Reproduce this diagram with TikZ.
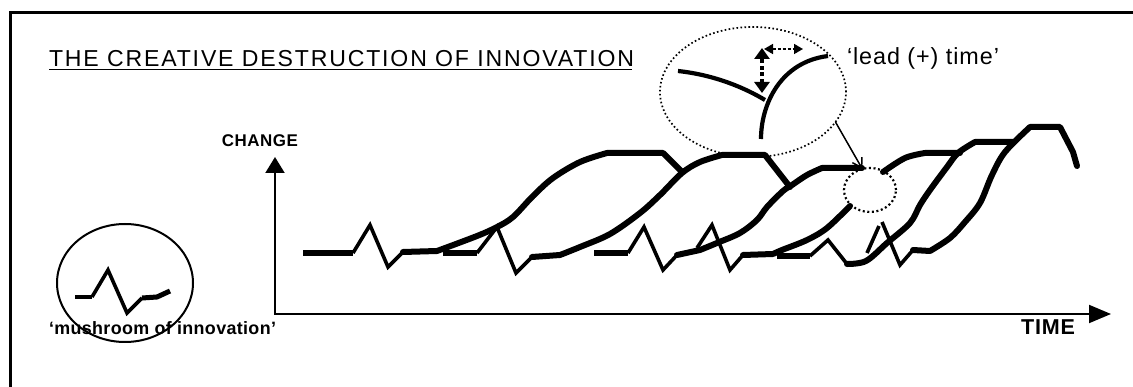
\documentclass[tikz,border=0pt]{standalone}
\usepackage{fontspec}
\setmainfont{Liberation Sans}
\usetikzlibrary{arrows.meta,shapes.geometric}
\newcommand\fitto[2]{\resizebox{#1}{!}{#2}}
\begin{document}
\begin{tikzpicture}[x=1pt,y=-1pt,
  txt/.style={inner sep=0pt,outer sep=0pt},
  curve/.style={line width=6pt,line cap=round,line join=round},
  flat/.style={line width=5.5pt,line cap=butt,line join=round},
  zig/.style={line width=3.6pt,line join=miter,line cap=butt},
  axis/.style={line width=2pt},
  dots/.style={line width=1.7pt,dash pattern=on 1.6pt off 2.4pt},
  ell/.style={ellipse,inner sep=0pt,outer sep=0pt}]
\useasboundingbox (0,0) rectangle (1133,387);
% frame
\draw[line width=3pt] (1145,13) -| (10,400);
% title
\node[txt,anchor=base west] (title) at (49,67)
  {\fitto{585pt}{\fontsize{19}{19}\selectfont\addfontfeature{LetterSpace=8}THE CREATIVE DESTRUCTION OF INNOVATION}};
\draw[line width=1.6pt] ([yshift=-2.5pt]title.base west) -- ([xshift=-2pt,yshift=-2.5pt]title.base east);
\node[txt,anchor=base west] (lead) at (847,65)
  {\fitto{152pt}{\fontsize{20.5}{20.5}\selectfont\addfontfeature{LetterSpace=4}‘lead (+) time’}};
\node[txt,anchor=base east] (change) at (298,147)
  {\fitto{76pt}{\fontsize{16.7}{16.7}\selectfont\bfseries\addfontfeature{LetterSpace=3}CHANGE}};
\node[txt,anchor=base west] (time) at (1021,335)
  {\fitto{54pt}{\fontsize{19}{19}\selectfont\bfseries\addfontfeature{LetterSpace=4}TIME}};
\node[txt,anchor=base west] (mush) at (49,335)
  {\fitto{227pt}{\fontsize{16.7}{16.7}\selectfont\bfseries\addfontfeature{LetterSpace=2}‘mushroom of innovation’}};
% axes
\coordinate (origin) at (275,314);
\coordinate (ytip) at (275,157);
\coordinate (xtip) at (1111,314);
\draw[axis,-{Triangle[length=16pt,width=19pt]}] ([yshift=-1pt]origin) -- (ytip);
\draw[axis,-{Triangle[length=22pt,width=18pt]}] ([xshift=-1pt]origin) -- (xtip);
% icon ellipse
\node[ell,draw,line width=2pt,minimum width=136pt,minimum height=118pt] (icon) at (125,283) {};
\draw[flat,line width=4.5pt] (75,297) -- (92,297);
\draw[zig] (92,297) -- (108,270) -- (127,313) -- (142,298);
\draw[flat,line width=5pt] (142,298) -- (157,297) -- (170,291);
% magnifier ellipse and small circle
\node[ell,draw,dots,minimum width=186pt,minimum height=130pt] (zoomell) at (753,92) {};
\node[ell,draw,line width=2.2pt,dash pattern=on 2pt off 2.6pt,minimum width=52pt,minimum height=44pt] (sc) at (870,190) {};
\draw[line width=1.5pt,-{Straight Barb[length=9pt,width=11pt]}] (zoomell.-20) -- (sc.110);
% inside magnifier
\draw[line width=4.2pt] (678,71) .. controls (715,75) and (745,88) .. (765,100);
\draw[line width=4.2pt] (761,139) .. controls (761,105) and (780,62) .. (828,56);
\coordinate (vtop) at (762,48);
\coordinate (vbot) at (762,93);
\coordinate (hl) at (764,49);
\coordinate (hr) at (803,49);
\draw[line width=3.2pt,dash pattern=on 4pt off 2.5pt,{Triangle[length=11pt,width=15pt]}-{Triangle[length=11pt,width=15pt]}] (vbot) -- (vtop);
\draw[line width=1.6pt,dash pattern=on 3pt off 2pt,{Triangle[length=9pt,width=10pt]}-{Triangle[length=9pt,width=10pt]}] (hl) -- (hr);
% mushroom A
\draw[flat] (303,253) -- (353,253);
\draw[zig] (353,253) -- (370,225) -- (388,267) -- (403,252);
\draw[curve] (403,252) -- (437,251) plot[smooth,tension=0.55] coordinates {(437,251) (477,236) (497,227) (513,217) (533,196) (553,178) (580,162) (607,153)} -- (663,153) -- (682,172);
% mushroom B
\draw[flat] (443,253) -- (477,253);
\draw[zig] (477,253) -- (497,227) -- (516,273) -- (532,257);
\draw[curve] (532,257) -- (560,255) plot[smooth,tension=0.55] coordinates {(560,255) (580,247) (610,234) (640,213) (660,195) (682,173) (700,162) (722,155)} -- (765,155) -- (790,187);
% mushroom C
\draw[flat] (594,253) -- (628,253);
\draw[zig] (628,253) -- (644,227) -- (663,270) -- (677,255);
\draw[curve] (677,255) -- (700,250) plot[smooth,tension=0.55] coordinates {(700,250) (717,243) (740,233) (757,220) (767,207) (783,191) (792,185) (807,175) (822,168)} -- (862,168);
% mushroom D
\draw[zig] (697,248) -- (712,225) -- (730,270) -- (743,255);
\draw[curve] (743,255) -- (773,254) plot[smooth,tension=0.55] coordinates {(773,254) (782,250) (807,240) (827,228) (850,206)};
\draw[curve] plot[smooth,tension=0.55] coordinates {(883,172) (905,158) (925,153)} -- (960,153);
% mushroom E
\draw[flat] (777,256) -- (810,256);
\draw[zig] (810,256) -- (828,240) -- (847,264);
\draw[curve] plot[smooth,tension=0.55] coordinates {(847,264) (866,261) (887,243) (910,223) (920,205) (930,190) (947,167) (958,153) (975,142)} -- (1013,142);
% mushroom F
\draw[zig] (867,253) -- (879,226);
\draw[zig] (882,222) -- (900,265) -- (913,250);
\draw[curve] (913,250) -- (930,251) plot[smooth,tension=0.55] coordinates {(930,251) (950,238) (965,222) (980,203) (992,175) (1005,152) (1030,127)} -- (1060,127) -- (1073,152) -- (1077,166);
\end{tikzpicture}
\end{document}
